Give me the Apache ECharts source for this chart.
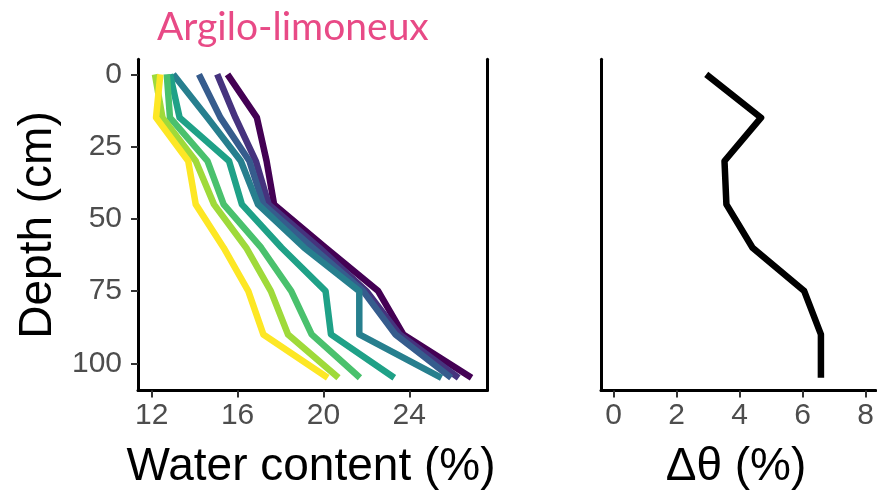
<!DOCTYPE html>
<html><head><meta charset="utf-8">
<script src="https://cdn.jsdelivr.net/npm/echarts@6/dist/echarts.min.js"></script>
<style>html,body{margin:0;padding:0;background:#fff}#c{width:877px;height:493px}</style>
</head><body><div id="c"></div>
<script>
// Depths (cm)
const depths = [0, 15, 30, 45, 60, 75, 90, 105];
// Water content profiles (%), one per date (viridis order)
const wc1 = [15.53, 16.9, 17.35, 17.7, 20.1, 22.55, 23.72, 26.9];
const wc2 = [15.05, 15.9, 16.85, 17.45, 19.8, 22.0, 23.55, 26.3];
const wc3 = [14.2, 15.2, 16.55, 17.2, 19.5, 21.85, 23.35, 25.95];
const wc4 = [13.0, 14.6, 16.15, 16.95, 19.1, 21.67, 21.67, 25.5];
const wc5 = [12.85, 13.3, 15.6, 16.2, 18.05, 20.1, 20.35, 23.3];
const wc6 = [12.7, 12.85, 14.6, 15.35, 17.1, 18.5, 19.45, 21.7];
const wc7 = [12.15, 12.5, 14.05, 14.9, 16.4, 17.55, 18.35, 20.7];
const wc8 = [12.4, 12.2, 13.7, 14.05, 15.35, 16.5, 17.2, 20.2];
// Delta theta (%)
const deltaTheta = [2.94, 4.68, 3.52, 3.58, 4.41, 6.05, 6.58, 6.58];
// Tick labels
const xTicksWC = [12, 16, 20, 24];
const xTicksDT = [0, 2, 4, 6, 8];
const yTicks = [0, 25, 50, 75, 100];
const profiles = [wc1, wc2, wc3, wc4, wc5, wc6, wc7, wc8];
const colors = ['#440154', '#46337E', '#365C8D', '#277F8E', '#1FA187', '#4AC16D', '#9FDA3A', '#FDE725'];

const FONT = 'Liberation Sans, Arial, sans-serif';
const gridTop = 59.3, gridH = 331.2;

function xAx(grid, min, max, ticks) {
  return {
    type: 'value', gridIndex: grid, min: min, max: max,
    axisLine: { show: true, onZero: false, lineStyle: { color: '#000', width: 3 } },
    axisTick: { show: true, customValues: ticks, length: 7, lineStyle: { color: '#333', width: 2 } },
    axisLabel: { show: true, customValues: ticks, margin: 10, fontSize: 30, color: '#4D4D4D', fontFamily: FONT },
    splitLine: { show: false }
  };
}
function yAx(grid, showLabels, pos) {
  return {
    type: 'value', gridIndex: grid, min: -5.2, max: 109.4, inverse: true, position: pos || 'left',
    axisLine: { show: true, onZero: false, lineStyle: { color: '#000', width: 3 } },
    axisTick: { show: showLabels, customValues: yTicks, length: 7, lineStyle: { color: '#333', width: 2 } },
    axisLabel: { show: showLabels, customValues: yTicks, margin: 16, fontSize: 30, color: '#4D4D4D', fontFamily: FONT },
    splitLine: { show: false }
  };
}

const series = profiles.map((p, k) => ({
  type: 'line', xAxisIndex: 0, yAxisIndex: 0, name: 'P' + (k + 1),
  data: depths.map((d, i) => [p[i], d]),
  showSymbol: false, silent: true,
  lineStyle: { color: colors[k], width: 6.5, cap: 'butt', join: 'round' },
  z: 2 + k
}));
series.push({
  type: 'line', xAxisIndex: 1, yAxisIndex: 2, name: 'dtheta',
  data: depths.map((d, i) => [deltaTheta[i], d]),
  showSymbol: false, silent: true,
  lineStyle: { color: '#000', width: 6.5, cap: 'butt', join: 'round' }
});

const chart = echarts.init(document.getElementById('c'), null, { renderer: 'canvas' });
chart.setOption({
  animation: false,
  backgroundColor: '#fff',
  grid: [
    { left: 138, width: 349, top: gridTop, height: gridH },
    { left: 601, width: 276, top: gridTop, height: gridH }
  ],
  xAxis: [xAx(0, 11.36, 27.62, xTicksWC), xAx(1, -0.4, 8.32, xTicksDT)],
  yAxis: [yAx(0, true), yAx(0, false, 'right'), yAx(1, false)],
  series: series,
  graphic: [
    { type: 'text', left: 157, top: 8, style: { text: 'Argilo-limoneux', fontSize: 39, fontFamily: 'Lato, sans-serif', fill: '#E84A86' } },
    { type: 'text', x: 311, y: 467, style: { text: 'Water content (%)', fontSize: 46, fontFamily: FONT, fill: '#000', align: 'center', verticalAlign: 'middle' } },
    { type: 'text', x: 736, y: 467, style: { text: 'Δθ (%)', fontSize: 46, fontFamily: FONT, fill: '#000', align: 'center', verticalAlign: 'middle' } },
    { type: 'text', x: 38, y: 225, rotation: Math.PI / 2, style: { text: 'Depth (cm)', fontSize: 46, fontFamily: FONT, fill: '#000', align: 'center', verticalAlign: 'middle' } }
  ]
});
</script>
</body></html>
